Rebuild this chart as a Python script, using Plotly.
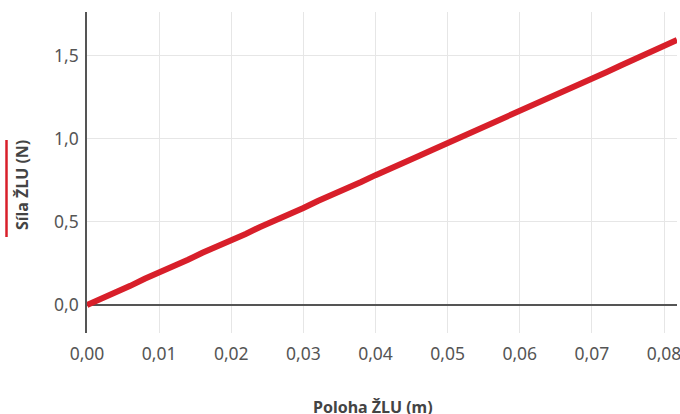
import plotly.graph_objects as go

position_m = [0.000, 0.002, 0.004, 0.006, 0.008, 0.010, 0.012, 0.014, 0.016, 0.018,
              0.020, 0.022, 0.024, 0.026, 0.028, 0.030, 0.032, 0.034, 0.036, 0.038,
              0.040, 0.042, 0.044, 0.046, 0.048, 0.050, 0.052, 0.054, 0.056, 0.058,
              0.060, 0.062, 0.064, 0.066, 0.068, 0.070, 0.072, 0.074, 0.076, 0.078,
              0.080, 0.0818]
force_n = [0.000, 0.036, 0.080, 0.115, 0.158, 0.193, 0.237, 0.272, 0.314, 0.350,
           0.393, 0.428, 0.470, 0.505, 0.548, 0.584, 0.626, 0.662, 0.703, 0.741,
           0.782, 0.818, 0.859, 0.897, 0.937, 0.975, 1.014, 1.052, 1.092, 1.130,
           1.170, 1.208, 1.247, 1.286, 1.324, 1.364, 1.402, 1.443, 1.480, 1.521,
           1.558, 1.597]

x_ticks = [0.00, 0.01, 0.02, 0.03, 0.04, 0.05, 0.06, 0.07, 0.08]
y_ticks = [0.0, 0.5, 1.0, 1.5]

RED = "#d81f2a"
FONT = "Noto Sans"
PW = 590
PH = 321

fig = go.Figure()
fig.add_trace(go.Scatter(
    x=position_m, y=force_n, mode="lines",
    line=dict(color=RED, width=6),
    showlegend=False, hoverinfo="skip",
))

fig.update_layout(
    width=680, height=414,
    margin=dict(l=87, r=3, t=12, b=81),
    paper_bgcolor="white", plot_bgcolor="white",
    separators=", ",
    font=dict(family=FONT, color="#555555", size=17.5),
    xaxis=dict(
        range=[0, 0.0818], tickvals=x_ticks, tickformat=".2f",
        showgrid=True, gridcolor="#e6e6e6", gridwidth=1,
        zeroline=False, showline=False, ticks="",
        automargin=False, ticklabelstandoff=8, ticklabeloverflow="allow",
        tickfont=dict(family=FONT, size=17.5, color="#555555"),
    ),
    yaxis=dict(
        range=[-0.169, 1.765], tickvals=y_ticks, tickformat=".1f",
        showgrid=True, gridcolor="#e6e6e6", gridwidth=1,
        zeroline=True, zerolinecolor="#555555", zerolinewidth=1.5,
        showline=True, linecolor="#555555", linewidth=1.5, ticks="",
        automargin=False, ticklabelstandoff=3,
        tickfont=dict(family=FONT, size=17.5, color="#555555"),
    ),
    annotations=[
        dict(text="<b>Poloha ŽLU (m)</b>", xref="paper", yref="paper",
             x=(373 - 87) / PW, y=0, yshift=-74, showarrow=False,
             font=dict(family=FONT, size=16, color="#444444"),
             xanchor="center", yanchor="middle"),
        dict(text="<b>Síla ŽLU (N)</b>", xref="paper", yref="paper",
             x=0, xshift=-65, y=(333 - 185) / PH, showarrow=False,
             textangle=-90,
             font=dict(family=FONT, size=16, color="#444444"),
             xanchor="center", yanchor="middle"),
    ],
    shapes=[
        dict(type="line", xref="paper", yref="paper",
             x0=-80.5 / PW, x1=-80.5 / PW,
             y0=(333 - 237) / PH, y1=(333 - 140) / PH,
             line=dict(color=RED, width=2.5)),
    ],
)

fig.write_html("out.html", config={"displayModeBar": False},
               post_script="document.body.style.margin='0';")
